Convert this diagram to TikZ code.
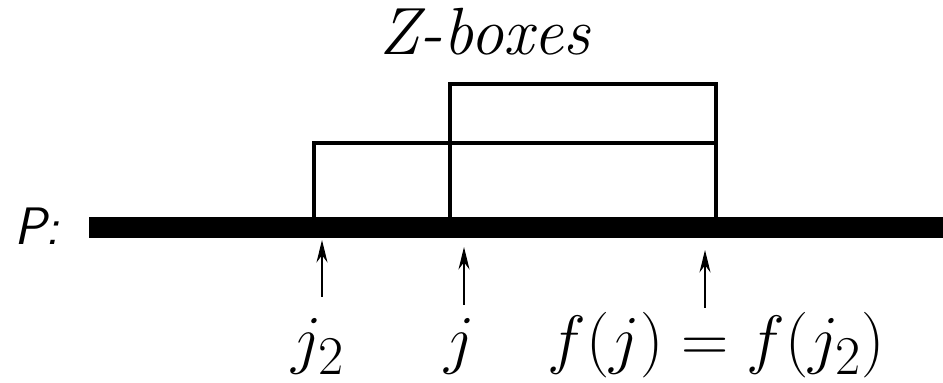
\documentclass[tikz,border=0pt]{standalone}
\usepackage{amsmath}
\usepackage{tikz}
\usetikzlibrary{arrows.meta}

\begin{document}
\begin{tikzpicture}[
    zbox/.style={draw, line width=2.8pt},
    pointer/.style={-{Stealth[length=4.5mm, width=2.2mm]}, line width=0.7pt},
    lbl/.style={font=\fontsize{24.88}{30}\selectfont, scale=1.5, inner sep=0pt, anchor=base}
]
    \useasboundingbox (0,0) rectangle (18.86,7.66);
    % the string P
    \node[fill, inner sep=0pt, minimum width=17.08cm, minimum height=0.42cm, anchor=west] (bar) at (1.78,3.11) {};
    \node[font=\fontsize{30}{34}\selectfont\sffamily\itshape, inner sep=0pt, anchor=base] (pname) at (0.74,2.76) {P:};
    % two Z-boxes ending at the same place
    \draw[zbox] (6.28,3.2) rectangle (14.32,4.8);
    \draw[zbox] (9.0,3.2) rectangle (14.32,5.98);
    \node[font=\fontsize{38}{42}\selectfont\itshape, inner sep=0pt, anchor=base] (title) at (9.7,6.56) {Z-boxes};
    % positions
    \node[lbl] (jtwo) at (6.36,0.42) {$j_2$};
    \node[lbl] (jone) at (9.2,0.42) {$j$};
    \node[lbl] (fj) at (14.33,0.42) {$f(j) = f(j_2)$};
    \coordinate (jtwo-top) at (6.44,1.72);
    \coordinate (jone-top) at (9.28,1.56);
    \coordinate (fj-top) at (14.1,1.5);
    \coordinate (jtwo-pos) at (6.44,2.86);
    \coordinate (jone-pos) at (9.28,2.72);
    \coordinate (fj-pos) at (14.1,2.66);
    \draw[pointer] (jtwo-top) -- (jtwo-pos);
    \draw[pointer] (jone-top) -- (jone-pos);
    \draw[pointer] (fj-top) -- (fj-pos);
\end{tikzpicture}
\end{document}
